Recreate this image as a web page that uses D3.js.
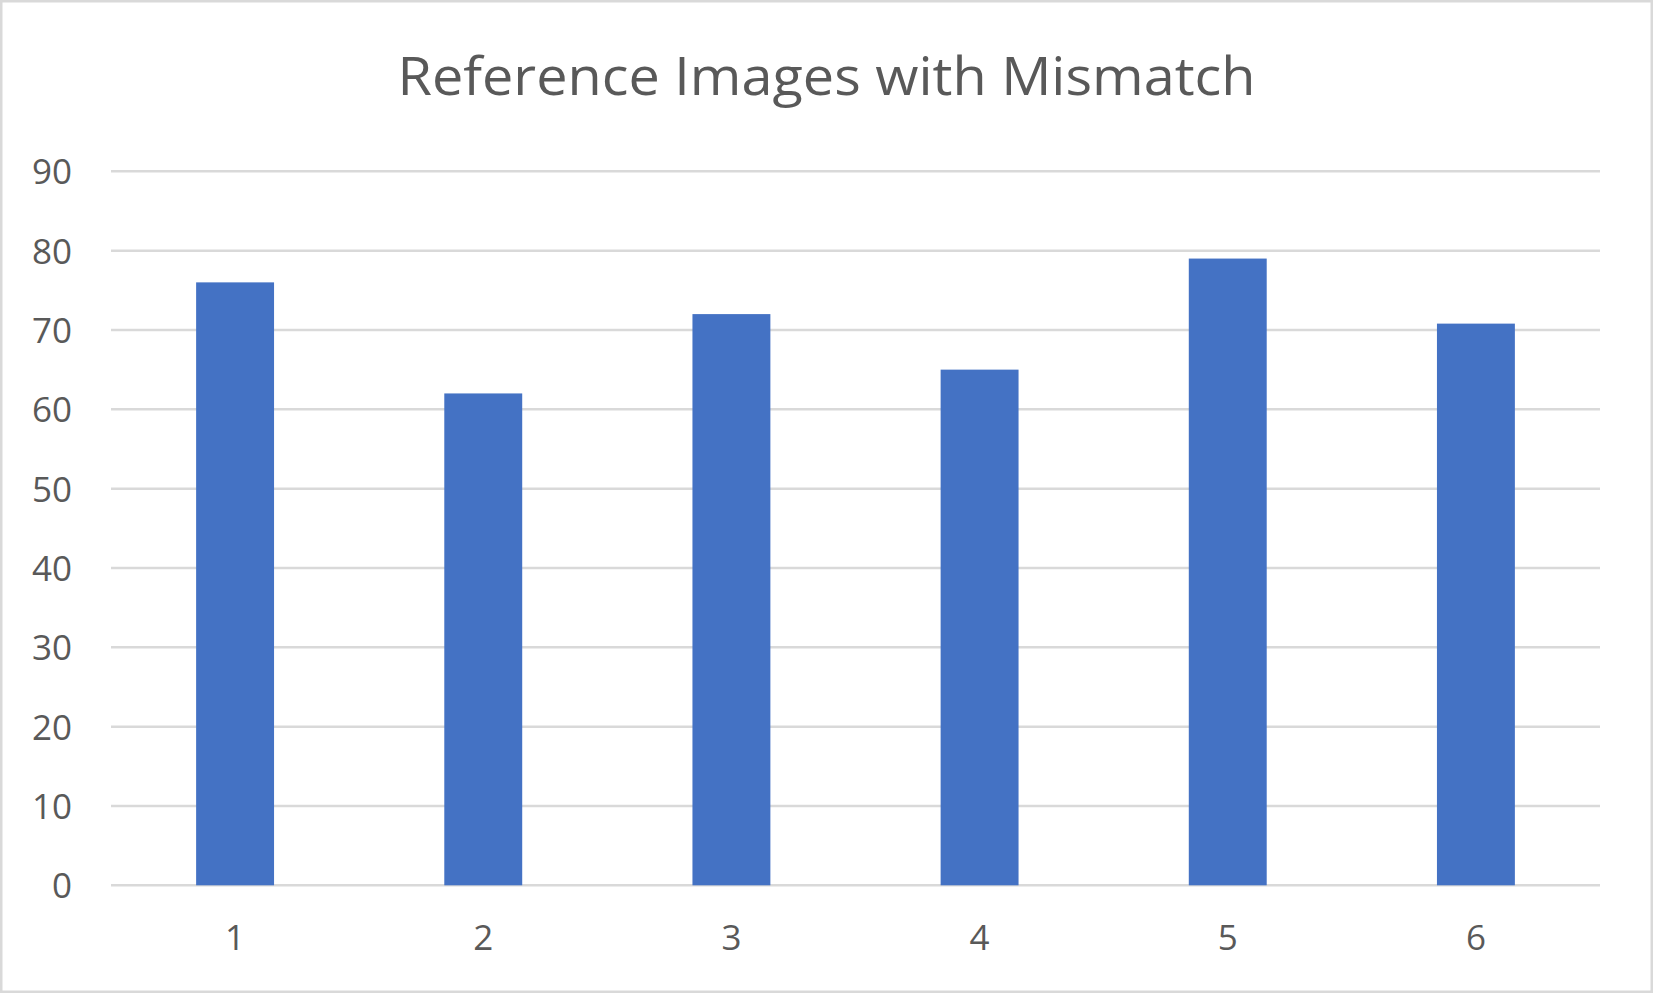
<!DOCTYPE html>
<html>
<head>
<meta charset="utf-8">
<script src="https://cdn.jsdelivr.net/npm/d3@7"></script>
<style>
  html, body { margin: 0; padding: 0; background: #fff; }
  svg { display: block; }
</style>
</head>
<body>
<svg id="chart" width="1653" height="993"></svg>
<script>
const title = "Reference Images with Mismatch";
const categories = ["1", "2", "3", "4", "5", "6"];
const values = [76, 62, 72, 65, 79, 70.8];
const yTicks = [0, 10, 20, 30, 40, 50, 60, 70, 80, 90];

const W = 1653, H = 993;
const margin = { left: 111, right: 53, top: 171.3, bottom: 107.7 };
const svg = d3.select("#chart");
const font = "'Open Sans', sans-serif";
const textColor = "#595959";

svg.append("rect")
  .attr("x", 1.25).attr("y", 1.25)
  .attr("width", W - 2.5).attr("height", H - 2.5)
  .attr("fill", "#fff").attr("stroke", "#d9d9d9").attr("stroke-width", 2.5);

const x = d3.scaleBand()
  .domain(categories)
  .range([margin.left, W - margin.right])
  .paddingInner(0.686).paddingOuter(0.343);

const y = d3.scaleLinear()
  .domain([0, 90])
  .range([H - margin.bottom, margin.top]);

// gridlines
svg.append("g")
  .selectAll("line")
  .data(yTicks)
  .join("line")
  .attr("x1", margin.left).attr("x2", W - margin.right)
  .attr("y1", d => y(d)).attr("y2", d => y(d))
  .attr("stroke", "#d9d9d9").attr("stroke-width", 2.5);

// y axis labels
const yAxis = d3.axisLeft(y).tickValues(yTicks).tickSize(0).tickPadding(0);
const gy = svg.append("g").attr("transform", "translate(72,0)").call(yAxis);
gy.select(".domain").remove();
gy.selectAll("text")
  .attr("font-family", font).attr("font-size", 35)
  .attr("fill", textColor).attr("dy", "0.36em").attr("x", 0);

// bars
svg.append("g")
  .selectAll("rect")
  .data(values)
  .join("rect")
  .attr("x", (d, i) => x(categories[i]))
  .attr("width", x.bandwidth())
  .attr("y", d => y(d))
  .attr("height", d => y(0) - y(d))
  .attr("fill", "#4472C4");

// x axis labels
const xAxis = d3.axisBottom(x).tickSize(0).tickPadding(0);
const gx = svg.append("g").attr("transform", `translate(0,${y(0)})`).call(xAxis);
gx.select(".domain").remove();
gx.selectAll("text")
  .attr("font-family", font).attr("font-size", 35)
  .attr("fill", textColor).attr("y", 65).attr("dy", 0);

// title
svg.append("text")
  .attr("x", W / 2).attr("y", 95)
  .attr("text-anchor", "middle")
  .attr("font-family", font).attr("font-size", 53)
  .attr("fill", textColor)
  .attr("textLength", 858).attr("lengthAdjust", "spacingAndGlyphs")
  .text(title);
</script>
</body>
</html>
